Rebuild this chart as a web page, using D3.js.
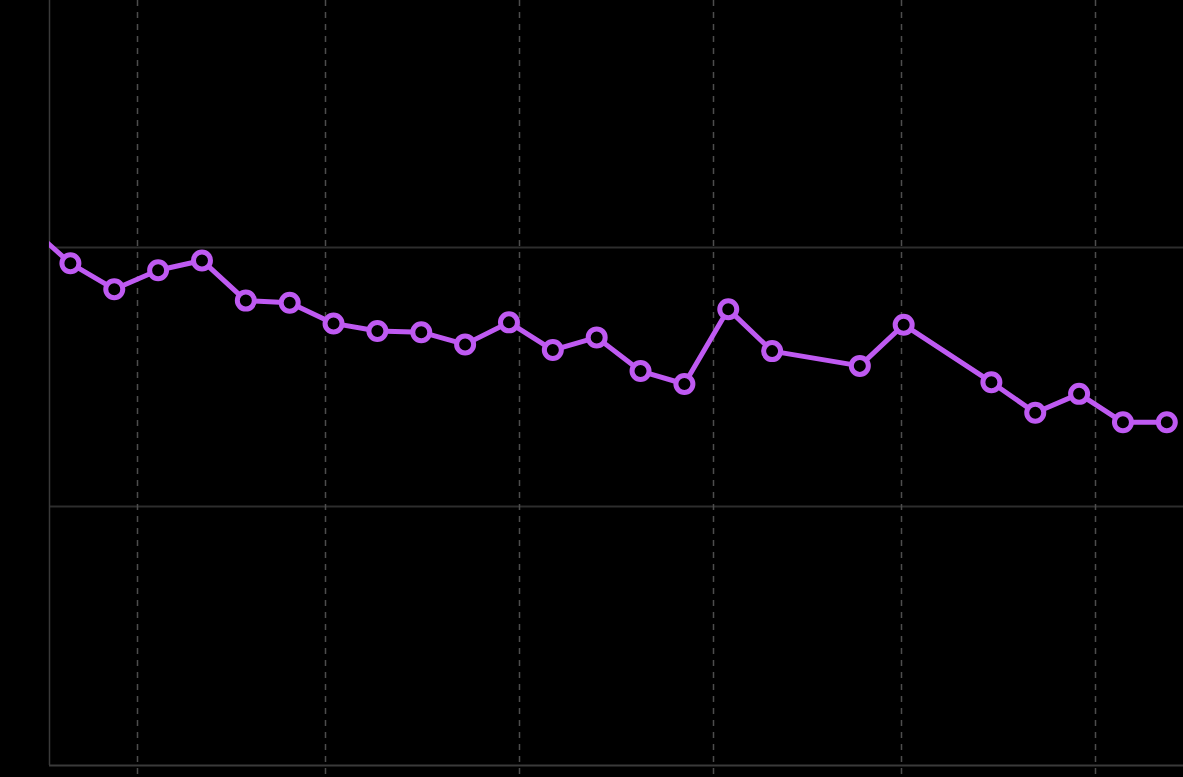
<!DOCTYPE html>
<html>
<head>
<meta charset="utf-8">
<script src="https://cdn.jsdelivr.net/npm/d3@7"></script>
<style>
  html, body { margin: 0; padding: 0; background: #000; }
  svg { display: block; }
</style>
</head>
<body>
<svg id="chart" width="1183" height="777"></svg>
<script>
// weekly readings (one earlier point falls just left of the plot and is clipped)
var dates = [
  '2023-05-14 10:00', '2023-05-21 10:00', '2023-05-28 10:00', '2023-06-04 10:00',
  '2023-06-11 10:00', '2023-06-18 10:00', '2023-06-25 10:00', '2023-07-02 10:00',
  '2023-07-09 10:00', '2023-07-16 10:00', '2023-07-23 10:00', '2023-07-30 10:00',
  '2023-08-06 10:00', '2023-08-13 10:00', '2023-08-20 10:00', '2023-08-27 10:00',
  '2023-09-03 10:00', '2023-09-10 10:00', '2023-09-24 10:00', '2023-10-01 10:00',
  '2023-10-15 10:00', '2023-10-22 10:00', '2023-10-29 10:00', '2023-11-05 10:00',
  '2023-11-12 10:00'
];
var values = [
  20.88, 19.37, 18.37, 19.10, 19.48,
  17.93, 17.85, 17.05, 16.76, 16.71,
  16.24, 17.09, 16.02, 16.51, 15.21,
  14.71, 17.60, 15.98, 15.41, 17.00,
  14.78, 13.60, 14.33, 13.23, 13.23
];
var yTicks = [0, 10, 20];
var monthTicks = ['2023-06-01', '2023-07-01', '2023-08-01', '2023-09-01', '2023-10-01', '2023-11-01'];
var xDomain = ['2023-05-18', '2023-11-15'];

(function () {
  var parseTime = d3.timeParse('%Y-%m-%d %H:%M');
  var parseDay = d3.timeParse('%Y-%m-%d');

  var data = dates.map(function (d, i) {
    return { date: parseTime(d), value: values[i] };
  });

  var svg = d3.select('#chart');
  var plotLeft = 49, plotRight = 1183, plotTop = -12, plotBottom = 765;

  var x = d3.scaleTime()
    .domain(xDomain.map(parseDay))
    .range([plotLeft, plotRight]);

  var y = d3.scaleLinear()
    .domain([0, 30])
    .range([plotBottom, plotTop]);

  svg.append('defs').append('clipPath')
    .attr('id', 'plot-clip')
    .append('rect')
    .attr('x', plotLeft)
    .attr('y', 0)
    .attr('width', plotRight - plotLeft + 20)
    .attr('height', plotBottom);

  // horizontal grid
  svg.append('g')
    .selectAll('line')
    .data(yTicks.filter(function (t) { return t > 0; }))
    .enter()
    .append('line')
    .attr('x1', plotLeft)
    .attr('x2', plotRight)
    .attr('y1', function (d) { return Math.round(y(d)) + 0.5; })
    .attr('y2', function (d) { return Math.round(y(d)) + 0.5; })
    .attr('stroke', '#2d2d2d')
    .attr('stroke-width', 2);

  // vertical dashed month lines
  svg.append('g')
    .selectAll('line')
    .data(monthTicks.map(parseDay))
    .enter()
    .append('line')
    .attr('x1', function (d) { return Math.round(x(d)) + 0.5; })
    .attr('x2', function (d) { return Math.round(x(d)) + 0.5; })
    .attr('y1', 0)
    .attr('y2', plotBottom + 12)
    .attr('stroke', '#4d4d4d')
    .attr('stroke-width', 1.5)
    .attr('stroke-dasharray', '6,6');

  // axes
  svg.append('line')
    .attr('x1', plotLeft + 0.5).attr('x2', plotLeft + 0.5)
    .attr('y1', 0).attr('y2', plotBottom)
    .attr('stroke', '#3a3a3a')
    .attr('stroke-width', 1.5);

  svg.append('line')
    .attr('x1', plotLeft).attr('x2', plotRight)
    .attr('y1', plotBottom + 0.5).attr('y2', plotBottom + 0.5)
    .attr('stroke', '#3a3a3a')
    .attr('stroke-width', 2);

  var purple = '#bf5af2';

  var line = d3.line()
    .x(function (d) { return x(d.date); })
    .y(function (d) { return y(d.value); });

  var plot = svg.append('g').attr('clip-path', 'url(#plot-clip)');

  plot.append('path')
    .datum(data)
    .attr('d', line)
    .attr('fill', 'none')
    .attr('stroke', purple)
    .attr('stroke-width', 5)
    .attr('stroke-linejoin', 'round');

  plot.selectAll('circle')
    .data(data)
    .enter()
    .append('circle')
    .attr('cx', function (d) { return x(d.date); })
    .attr('cy', function (d) { return y(d.value); })
    .attr('r', 8.5)
    .attr('fill', '#000')
    .attr('stroke', purple)
    .attr('stroke-width', 5);
})();
</script>
</body>
</html>
